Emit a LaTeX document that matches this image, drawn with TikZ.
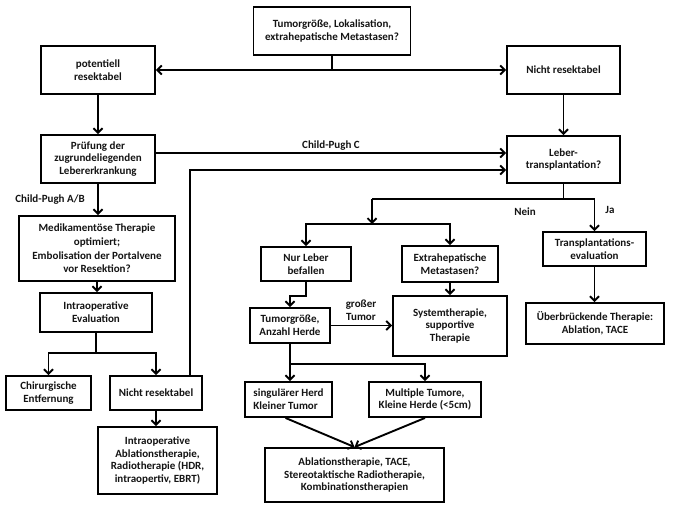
\documentclass[tikz,border=0pt]{standalone}
\usepackage{fontspec}
\setmainfont{Carlito}[BoldFont={Carlito Bold}]
\usetikzlibrary{arrows.meta}
\begin{document}
\begin{tikzpicture}[x=1pt,y=-1pt,
  box/.style={draw, line width=1.9pt, align=center, inner sep=1pt,
    font=\fontsize{11}{12.8}\selectfont\bfseries, text=black!92},
  lbl/.style={align=center, inner sep=1pt, font=\fontsize{11}{12.8}\selectfont\bfseries, text=black!92},
  conn/.style={line width=1.9pt},
  arr/.style={line width=1.9pt, -{Straight Barb[length=4.5pt,width=9pt]}}]
\useasboundingbox (0,0) rectangle (680,510);
\fill[white] (0,0) rectangle (680,510);
% nodes
\node[box, minimum width=157pt, minimum height=48pt] (top) at (332,31) {Tumorgröße, Lokalisation,\\extrahepatische Metastasen?};
\node[box, minimum width=114pt, minimum height=48pt] (pot) at (98,70) {potentiell\\resektabel};
\node[box, minimum width=113pt, minimum height=48pt] (nr1) at (563.5,70) {Nicht resektabel};
\node[box, minimum width=114pt, minimum height=48pt] (pr) at (98,159) {Prüfung der\\zugrundeliegenden\\Lebererkrankung};
\node[box, minimum width=113pt, minimum height=47pt] (lt) at (563.5,159.5) {Leber-\\transplantation?};
\node[box, minimum width=156pt, minimum height=65pt, font=\fontsize{11}{13.6}\selectfont\bfseries] (med) at (97,248.5) {Medikamentöse Therapie\\optimiert;\\Embolisation der Portalvene\\vor Resektion?};
\node[box, minimum width=112pt, minimum height=39pt] (io) at (96,312.5) {Intraoperative\\Evaluation};
\node[box, minimum width=85pt, minimum height=34pt] (chir) at (48.5,393) {Chirurgische\\Entfernung};
\node[box, minimum width=92pt, minimum height=34pt] (nr2) at (156,393) {Nicht resektabel};
\node[box, minimum width=119pt, minimum height=67pt] (ioab) at (157.5,460.5) {Intraoperative\\Ablationstherapie,\\Radiotherapie (HDR,\\intraopertiv, EBRT)};
\node[box, minimum width=90pt, minimum height=34pt] (nl) at (306,264) {Nur Leber\\befallen};
\node[box, minimum width=96pt, minimum height=36pt] (eh) at (450,264) {Extrahepatische\\Metastasen?};
\node[box, minimum width=114pt, minimum height=60pt] (sys) at (450,326) {Systemtherapie,\\supportive\\Therapie};
\node[box, minimum width=103pt, minimum height=34pt] (te) at (594.5,249) {Transplantations-\\evaluation};
\node[box, minimum width=138pt, minimum height=41pt] (ub) at (595,323.5) {Überbrückende Therapie:\\Ablation, TACE};
\node[box, minimum width=80pt, minimum height=35pt] (tg) at (290,325.5) {Tumorgröße,\\Anzahl Herde};
\node[box, minimum width=87pt, minimum height=35pt, align=left] (sg) at (288.5,399.5) {singulärer Herd\\Kleiner Tumor};
\node[box, minimum width=112pt, minimum height=35pt] (mt) at (425,399.5) {Multiple Tumore,\\Kleine Herde (<5cm)};
\node[box, minimum width=179pt, minimum height=54pt] (ab) at (354.5,475) {Ablationstherapie, TACE,\\Stereotaktische Radiotherapie,\\Kombinationstherapien};
% labels
\node[lbl] (lcpc) at (331,146) {Child-Pugh C};
\node[lbl] (lcpab) at (50,200) {Child-Pugh A/B};
\node[lbl] (lnein) at (525,212) {Nein};
\node[lbl] (lja) at (610,210) {Ja};
\node[lbl, font=\fontsize{11}{12.5}\selectfont\bfseries] (lgt) at (361,310) {großer\\Tumor};
% coordinates
\coordinate (j1) at (332,70);
\coordinate (j3) at (563.5,199);
\coordinate (j3b) at (372,199);
\coordinate (j4) at (372,224);
% connectors
\draw[conn] (top.south) -- (j1);
\draw[arr] (j1) -- (pot.east);
\draw[arr] (j1) -- (nr1.west);
\draw[arr] (pot.south) -- (pr.north);
\draw[arr] ([yshift=6pt]pr.east) -- ([yshift=6pt]pr.east -| lt.west);
\draw[arr] ([xshift=34pt]nr2.north) |- ([yshift=-10.5pt]lt.west);
\draw[arr] (pr.south) -- (pr.south |- med.north);
\draw[arr] (med.south) -- (med.south |- io.north);
\draw[conn] (io.south) -- ++(0,20.5) coordinate (j2);
\draw[arr] (j2) -| (chir.north);
\draw[arr] (j2) -| (nr2.north);
\draw[arr] (nr2.south) -- (nr2.south |- ioab.north);
\draw[arr] (nr1.south) -- (lt.north);
\draw[conn] (lt.south) -- (j3) -- (j3b);
\draw[arr] (j3b) -- (j4);
\draw[arr] (j3) -| (te.north);
\draw[arr] (j4) -| (nl.north);
\draw[arr] (j4) -| (eh.north);
\draw[arr] (eh.south) -- (sys.north);
\draw[arr] (te.south) -- (te.south |- ub.north);
\draw[arr] (nl.south) -- ++(0,14) -| (tg.north);
\draw[arr] (tg.east) -- (tg.east -| sys.west);
\draw[conn] (tg.south) -- ++(0,20) coordinate (j5);
\draw[arr] (j5) -- (j5 |- sg.north);
\draw[arr] (j5) -| (mt.north);
\draw[arr] ([xshift=-3pt]sg.south) -- (ab.north);
\draw[arr] (mt.south) -- (ab.north);
\end{tikzpicture}
\end{document}
